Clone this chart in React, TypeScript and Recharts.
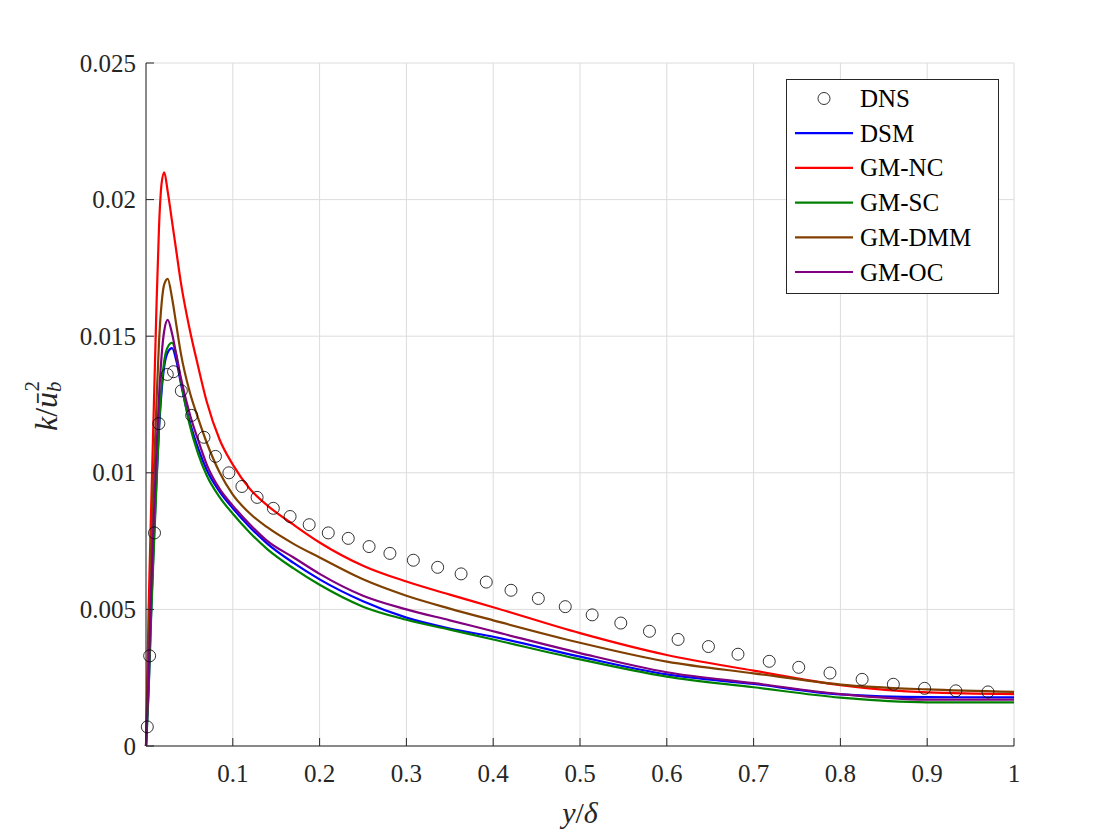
import { ComposedChart, Line, Scatter, XAxis, YAxis, CartesianGrid, Legend } from 'recharts';

// wall-normal positions y/delta shared by the LES curves
const yDelta = [0, 0.003, 0.006, 0.009, 0.012, 0.015, 0.018, 0.021, 0.025, 0.03, 0.035, 0.04, 0.05, 0.06, 0.07, 0.085, 0.1, 0.12, 0.14, 0.17, 0.2, 0.25, 0.3, 0.35, 0.4, 0.5, 0.6, 0.7, 0.8, 0.9, 1.0];

const dsm = [0, 0.0021, 0.005, 0.0075, 0.0097, 0.0116, 0.013, 0.0139, 0.0144, 0.01456, 0.0141, 0.0133, 0.0119, 0.0109, 0.0101, 0.0093, 0.0087, 0.008, 0.0074, 0.0067, 0.0061, 0.0053, 0.0047, 0.0043, 0.004, 0.00327, 0.00262, 0.00227, 0.00189, 0.00179, 0.00178];
const gmNc = [0, 0.005, 0.0088, 0.0124, 0.016, 0.019, 0.0206, 0.021, 0.0203, 0.0192, 0.0181, 0.017, 0.0153, 0.0139, 0.0126, 0.0112, 0.0103, 0.0094, 0.0088, 0.0081, 0.00745, 0.0066, 0.00602, 0.00554, 0.00508, 0.00413, 0.00333, 0.00276, 0.00223, 0.00196, 0.0019];
const gmSc = [0, 0.002, 0.0048, 0.0072, 0.0095, 0.0117, 0.0132, 0.0141, 0.0146, 0.01476, 0.0143, 0.0134, 0.0118, 0.0107, 0.0099, 0.0091, 0.0085, 0.0078, 0.0072, 0.0065, 0.0059, 0.0051, 0.00462, 0.00426, 0.0039, 0.00317, 0.00254, 0.00215, 0.00177, 0.0016, 0.0016];
const gmDmm = [0, 0.0035, 0.0074, 0.01, 0.0125, 0.0148, 0.0162, 0.0169, 0.0171, 0.0164, 0.0154, 0.0144, 0.013, 0.012, 0.0111, 0.01, 0.0092, 0.0085, 0.008, 0.0074, 0.0069, 0.0061, 0.0055, 0.00503, 0.0046, 0.00378, 0.00309, 0.00266, 0.00225, 0.00207, 0.00198];
const gmOc = [0, 0.0025, 0.0058, 0.0084, 0.0108, 0.0128, 0.0143, 0.0152, 0.0156, 0.0151, 0.0143, 0.0135, 0.0122, 0.0112, 0.0103, 0.0094, 0.0088, 0.0081, 0.0075, 0.0069, 0.0063, 0.0055, 0.005, 0.0046, 0.0042, 0.0034, 0.0027, 0.0023, 0.0019, 0.0017, 0.0017];

// DNS reference points
const dnsY = [0.0015, 0.0042, 0.0098, 0.0148, 0.0245, 0.0317, 0.0407, 0.0526, 0.0668, 0.08, 0.0955, 0.1105, 0.128, 0.1467, 0.166, 0.188, 0.21, 0.233, 0.257, 0.281, 0.308, 0.336, 0.363, 0.392, 0.4205, 0.452, 0.483, 0.514, 0.547, 0.58, 0.613, 0.648, 0.682, 0.718, 0.752, 0.788, 0.825, 0.861, 0.897, 0.933, 0.97];
const dnsK = [0.0007, 0.0033, 0.0078, 0.0118, 0.0136, 0.0137, 0.013, 0.0121, 0.0113, 0.0106, 0.01, 0.0095, 0.0091, 0.0087, 0.0084, 0.0081, 0.0078, 0.0076, 0.0073, 0.00705, 0.0068, 0.00654, 0.0063, 0.006, 0.0057, 0.0054, 0.0051, 0.0048, 0.0045, 0.0042, 0.0039, 0.00364, 0.00336, 0.0031, 0.00288, 0.00267, 0.00244, 0.00226, 0.00211, 0.00202, 0.00198];

const xTicks = [0.1, 0.2, 0.3, 0.4, 0.5, 0.6, 0.7, 0.8, 0.9, 1];
const yTicks = [0, 0.005, 0.01, 0.015, 0.02, 0.025];

const legendNames = ['DNS', 'DSM', 'GM-NC', 'GM-SC', 'GM-DMM', 'GM-OC'];

const lesData = yDelta.map((x, i) => ({ x, dsm: dsm[i], gmNc: gmNc[i], gmSc: gmSc[i], gmDmm: gmDmm[i], gmOc: gmOc[i] }));
const dnsData = dnsY.map((x, i) => ({ x, k: dnsK[i] }));

const FONT = 'Liberation Serif, DejaVu Serif, serif';
const AXIS = '#262626';
const lineColors = ['#0000ff', '#ff0000', '#008000', '#804000', '#800080'];

const XTick = (props: any) => (
  <text x={props.x} y={773} textAnchor="middle" dominantBaseline="central" fontFamily={FONT} fontSize={25} fill={AXIS}>
    {props.payload.value}
  </text>
);

const YTick = (props: any) => (
  <text x={136} y={props.y} textAnchor="end" dominantBaseline="central" fontFamily={FONT} fontSize={25} fill={AXIS}>
    {props.payload.value === 0 ? '0' : String(props.payload.value)}
  </text>
);

const DnsMarker = (props: any) => (
  <circle cx={props.cx} cy={props.cy} r={6} fill="none" stroke="#000" strokeWidth={0.8} />
);

const LegendBox = () => (
  <svg width={214} height={216}>
    <rect x={0.5} y={0.5} width={212} height={214} fill="#fff" stroke={AXIS} strokeWidth={1} />
    {legendNames.map((name, i) => {
      const cy = 19.5 + i * 34.7;
      return (
        <g key={name}>
          {i === 0 ? (
            <circle cx={38} cy={cy} r={6} fill="none" stroke="#000" strokeWidth={0.8} />
          ) : (
            <line x1={9} x2={67} y1={cy} y2={cy} stroke={lineColors[i - 1]} strokeWidth={2.2} />
          )}
          <text x={74} y={cy} dominantBaseline="central" fontFamily={FONT} fontSize={25} fill="#000">{name}</text>
        </g>
      );
    })}
  </svg>
);

export default function App() {
  return (
    <div style={{ position: 'absolute', left: 0, top: 0, width: 1120, height: 840, background: '#fff' }}>
      <ComposedChart width={1120} height={840} data={lesData} margin={{ top: 63, right: 106, bottom: 0, left: 0 }}>
        <CartesianGrid stroke="#dcdcdc" strokeWidth={1} />
        <XAxis
          dataKey="x"
          type="number"
          domain={[0, 1]}
          ticks={xTicks}
          height={94}
          stroke={AXIS}
          tickSize={-8}
          tick={<XTick />}
          interval={0}
        />
        <YAxis
          type="number"
          domain={[0, 0.025]}
          ticks={yTicks}
          width={146}
          stroke={AXIS}
          tickSize={-8}
          tick={<YTick />}
          interval={0}
        />
        <XAxis xAxisId="top" orientation="top" type="number" domain={[0, 1]} ticks={xTicks} height={0} stroke={AXIS} tickSize={-8} tick={false} />
        <YAxis yAxisId="right" orientation="right" type="number" domain={[0, 0.025]} ticks={yTicks} width={0} stroke={AXIS} tickSize={-8} tick={false} />
        <Line type="monotone" dataKey="dsm" name="DSM" stroke="#0000ff" strokeWidth={2.2} dot={false} isAnimationActive={false} />
        <Line type="monotone" dataKey="gmNc" name="GM-NC" stroke="#ff0000" strokeWidth={2.2} dot={false} isAnimationActive={false} />
        <Line type="monotone" dataKey="gmSc" name="GM-SC" stroke="#008000" strokeWidth={2.2} dot={false} isAnimationActive={false} />
        <Line type="monotone" dataKey="gmDmm" name="GM-DMM" stroke="#804000" strokeWidth={2.2} dot={false} isAnimationActive={false} />
        <Line type="monotone" dataKey="gmOc" name="GM-OC" stroke="#800080" strokeWidth={2.2} dot={false} isAnimationActive={false} />
        <Scatter data={dnsData} dataKey="k" name="DNS" shape={<DnsMarker />} isAnimationActive={false} />
        <Legend
          layout="horizontal"
          verticalAlign="middle"
          align="center"
          content={<LegendBox />}
          wrapperStyle={{ position: 'absolute', left: 786, top: 79, width: 214, height: 216 }}
        />
        <text x={0} y={0} transform="translate(46 406) rotate(-90)" textAnchor="middle" dominantBaseline="central" fontFamily={FONT} fontSize={32} fill={AXIS}>
          <tspan fontStyle="italic">k</tspan>
          <tspan>/</tspan>
          <tspan fontStyle="italic">ū</tspan>
          <tspan fontStyle="italic" fontSize={21} dy={8}>b</tspan>
          <tspan fontSize={21} dx={-10} dy={-22}>2</tspan>
        </text>
        <text x={580} y={812} textAnchor="middle" dominantBaseline="central" fontFamily={FONT} fontSize={30} fill={AXIS}>
          <tspan fontStyle="italic">y</tspan>
          <tspan>/</tspan>
          <tspan fontStyle="italic">δ</tspan>
        </text>
      </ComposedChart>
    </div>
  );
}
